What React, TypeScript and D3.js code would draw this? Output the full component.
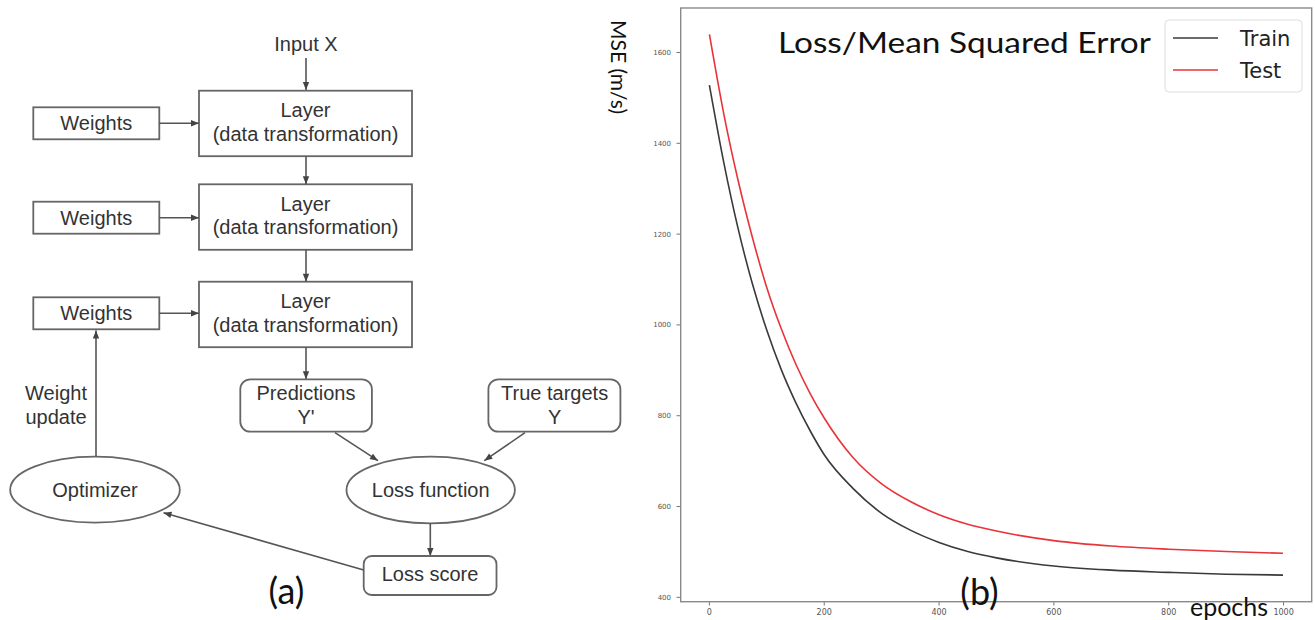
import React from "react";
import * as d3 from "d3";

// ---- Chart data ----
const epochs = [0, 25, 50, 75, 100, 125, 150, 175, 200, 250, 300, 350, 400, 450, 500, 600, 700, 800, 900, 999];
const trainMSE = [1528, 1358, 1212, 1090, 988, 902, 830, 768, 714, 640, 585, 548, 521, 501, 487, 469, 460, 455, 451, 449];
const testMSE = [1640, 1465, 1318, 1192, 1082, 992, 915, 850, 795, 708, 650, 611, 582, 561, 546, 525, 513, 506, 501, 497];
const yTicks = [400, 600, 800, 1000, 1200, 1400, 1600];
const xTicks = [0, 200, 400, 600, 800, 1000];
const seriesNames = ["Train", "Test"];
const seriesColors = ["#3a3a3a", "#e8333a"];

const sansA = "'Liberation Sans', Arial, sans-serif";
const sansC = "Lato, 'Open Sans', sans-serif";
const dv = "'DejaVu Sans', sans-serif";

function Arrow({ x1, y1, x2, y2 }: { x1: number; y1: number; x2: number; y2: number }) {
  return <line x1={x1} y1={y1} x2={x2} y2={y2} stroke="#555" strokeWidth={1.6} markerEnd="url(#arr)" />;
}

export default function App() {
  const x = d3.scaleLinear().domain([-50, 1049]).range([680.7, 1311.7]);
  const y = d3.scaleLinear().domain([390.4, 1698]).range([601.7, 8]);
  const line = d3
    .line<number>()
    .x((_, i) => x(epochs[i]))
    .y((d) => y(d))
    .curve(d3.curveMonotoneX);
  const series = [trainMSE, testMSE];

  const layerTops = [90.7, 184.3, 281.7];
  const weightTops = [107.3, 201.7, 297.3];
  const boxStroke = "#666";
  const txt = "#333";

  return (
    <svg
      width={1315}
      height={620}
      style={{ position: "absolute", left: 0, top: 0, background: "#fff" }}
    >
      <defs>
        <marker id="arr" viewBox="0 0 10 10" refX="10" refY="5" markerWidth="10" markerHeight="8" markerUnits="userSpaceOnUse" orient="auto">
          <path d="M0,1 L10,5 L0,9 z" fill="#444" />
        </marker>
      </defs>

      {/* ---------- (a) diagram ---------- */}
      <g fontFamily={sansA} fontSize={20} fill={txt} textAnchor="middle">
        <text x={306} y={50.5}>Input X</text>
        <Arrow x1={306} y1={58} x2={306} y2={90} />
        {layerTops.map((t, i) => (
          <g key={"l" + i}>
            <rect x={199} y={t} width={213} height={65.5} fill="#fff" stroke={boxStroke} strokeWidth={1.8} />
            <text x={305.5} y={t + 26.6}>Layer</text>
            <text x={305.5} y={t + 50}>(data transformation)</text>
          </g>
        ))}
        {weightTops.map((t, i) => (
          <g key={"w" + i}>
            <rect x={33.3} y={t} width={126} height={32} fill="#fff" stroke={boxStroke} strokeWidth={1.8} />
            <text x={96.3} y={t + 23}>Weights</text>
            <Arrow x1={159.3} y1={t + 16} x2={199} y2={t + 16} />
          </g>
        ))}
        <Arrow x1={306} y1={156.2} x2={306} y2={184.3} />
        <Arrow x1={306} y1={249.8} x2={306} y2={281.7} />
        <Arrow x1={306} y1={347.2} x2={306} y2={379.3} />

        <rect x={240.3} y={379.3} width={131.6} height={52.4} rx={10} fill="#fff" stroke={boxStroke} strokeWidth={1.8} />
        <text x={306} y={400}>Predictions</text>
        <text x={306} y={424}>Y'</text>
        <rect x={488.4} y={379.3} width={132} height={52.4} rx={10} fill="#fff" stroke={boxStroke} strokeWidth={1.8} />
        <text x={554.6} y={400}>True targets</text>
        <text x={554.6} y={424}>Y</text>

        <Arrow x1={335} y1={432.7} x2={378} y2={460.7} />
        <Arrow x1={525} y1={432.7} x2={484.3} y2={460.7} />

        <ellipse cx={430.7} cy={490} rx={84.2} ry={33.3} fill="#fff" stroke={boxStroke} strokeWidth={1.8} />
        <text x={430.7} y={497}>Loss function</text>
        <ellipse cx={95} cy={489.7} rx={84.8} ry={33} fill="#fff" stroke={boxStroke} strokeWidth={1.8} />
        <text x={95} y={497}>Optimizer</text>

        <Arrow x1={430.3} y1={523.3} x2={430.3} y2={556} />
        <rect x={363.7} y={556} width={132.8} height={39} rx={8} fill="#fff" stroke={boxStroke} strokeWidth={1.8} />
        <text x={430} y={581}>Loss score</text>

        <Arrow x1={363.7} y1={570} x2={163.5} y2={512.7} />
        <Arrow x1={96} y1={456.7} x2={96} y2={330.5} />
        <text x={56} y={400}>Weight</text>
        <text x={56} y={423.5}>update</text>

        <text x={286.5} y={604} fontFamily={sansC} fontSize={36} fill="#111">(a)</text>
      </g>

      {/* ---------- (b) chart ---------- */}
      <g>
        {/* y label */}
        <text
          transform="translate(611,20) rotate(90)"
          fontFamily={sansC}
          fontSize={21}
          fill="#111"
        >
          MSE (m/s)
        </text>

        {/* ticks */}
        {yTicks.map((t) => (
          <g key={"yt" + t}>
            <line x1={676.5} x2={680.7} y1={y(t)} y2={y(t)} stroke="#777" strokeWidth={1} />
            <text x={671} y={y(t) + 2.5} fontFamily={dv} fontSize={7} fill="#555" textAnchor="end">
              {t}
            </text>
          </g>
        ))}
        {xTicks.map((t) => (
          <g key={"xt" + t}>
            <line x1={x(t)} x2={x(t)} y1={601.7} y2={605.5} stroke="#777" strokeWidth={1} />
            <text x={x(t)} y={615} fontFamily={dv} fontSize={8} fill="#555" textAnchor="middle">
              {t}
            </text>
          </g>
        ))}

        {/* lines */}
        {series.map((s, i) => (
          <path key={"s" + i} d={line(s) || ""} fill="none" stroke={seriesColors[i]} strokeWidth={1.6} />
        ))}

        {/* frame */}
        <rect x={680.7} y={8} width={631} height={593.7} fill="none" stroke="#8a8a8a" strokeWidth={1.4} />

        {/* title */}
        <text x={778} y={53} fontFamily={sansC} fontSize={29} fill="#111" textLength={373} lengthAdjust="spacingAndGlyphs">
          Loss/Mean Squared Error
        </text>

        {/* legend */}
        <rect x={1165} y={20} width={137} height={72} rx={4} fill="#fff" fillOpacity={0.85} stroke="#ddd" strokeWidth={1} />
        {seriesNames.map((n, i) => (
          <g key={"lg" + i}>
            <line x1={1173} x2={1218} y1={38 + i * 32} y2={38 + i * 32} stroke={seriesColors[i]} strokeWidth={1.6} />
            <text x={1240} y={45.5 + i * 32.5} fontFamily={dv} fontSize={21} fill="#222">
              {n}
            </text>
          </g>
        ))}

        <text x={979.5} y={605} fontFamily={sansC} fontSize={36} fill="#111" textAnchor="middle">(b)</text>
        <text x={1190} y={616} fontFamily={sansC} fontSize={25} fill="#111" textLength={78} lengthAdjust="spacingAndGlyphs">
          epochs
        </text>
      </g>
    </svg>
  );
}
